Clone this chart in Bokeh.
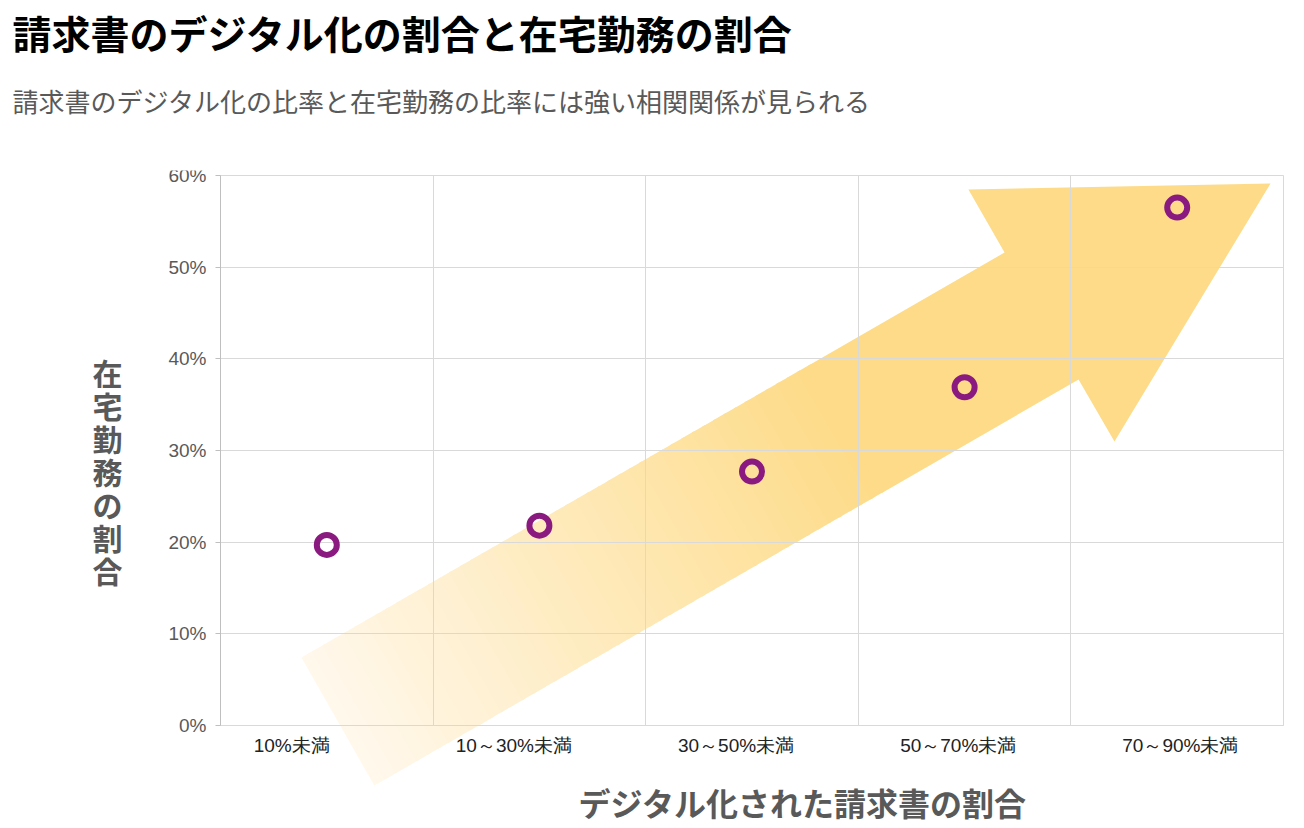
from bokeh.plotting import figure
from bokeh.models import (FixedTicker, PrintfTickFormatter, Label, Title,
                          PolyAnnotation, ColumnDataSource, Range1d)
from bokeh.embed import file_html
from bokeh.resources import INLINE

# ---------------- data ----------------
TITLE = "請求書のデジタル化の割合と在宅勤務の割合"
SUBTITLE = "請求書のデジタル化の比率と在宅勤務の比率には強い相関関係が見られる"
X_LABEL = "デジタル化された請求書の割合"
Y_LABEL = "在宅勤務の割合"
CATEGORIES = ["10%未満", "10～30%未満", "30～50%未満", "50～70%未満", "70～90%未満"]
REMOTE_SHARE = [19.7, 21.8, 27.7, 36.9, 56.5]
Y_TICKS = [0, 10, 20, 30, 40, 50, 60]

# decorative arrow outline (data units)
ARROW_TAIL_TOP = (0.381, 7.42)
ARROW_TAIL_BOT = (0.724, -6.55)
ARROW_NOTCH_TOP = (3.688, 51.6)
ARROW_NOTCH_BOT = (4.036, 37.75)
ARROW_BARB_TOP = (3.518, 58.47)
ARROW_BARB_BOT = (4.205, 30.98)
ARROW_TIP = (4.939, 59.13)
GRAD_START = (255, 248, 236)
GRAD_END = (253, 219, 136)

# ---------------- layout ----------------
n = len(CATEGORIES)
YMAX = Y_TICKS[-1]
W, H = 1296, 828
PX_X = 212.6          # pixels per category
PX_Y = 550 / YMAX     # pixels per percent
PLOT_LEFT, PLOT_TOP, PLOT_BOTTOM = 220, 175, 725   # where the chart area sits
FRAME_TOP, FRAME_RIGHT_PAD = 170, 5

x_start = -PLOT_LEFT / PX_X
x_end = n + 8 / PX_X
y_end = YMAX + (PLOT_TOP - FRAME_TOP) / PX_Y
y_start = -(H - PLOT_BOTTOM) / PX_Y

x_pos = [i + 0.5 for i in range(n)]
label_pos = [0.335 + 1.045 * i for i in range(n)]

p = figure(width=W, height=H, x_range=Range1d(x_start, x_end),
           y_range=Range1d(y_start, y_end),
           output_backend="svg", toolbar_location=None, title=None,
           min_border_left=0, min_border_right=FRAME_RIGHT_PAD,
           min_border_top=FRAME_TOP, min_border_bottom=0)
p.background_fill_color = "white"
p.border_fill_color = "white"
p.outline_line_color = None

spacer = Title(text=" ", text_font_size="10px", standoff=19)
sub = Title(text=SUBTITLE, text_font="Noto Sans CJK JP", text_font_size="26px",
            text_font_style="normal", text_color="#595959", align="left",
            offset=12, standoff=40)
main = Title(text=TITLE, text_font="Noto Sans CJK JP", text_font_size="39px",
             text_font_style="bold", text_color="#000000", align="left",
             offset=12, standoff=0)
p.add_layout(spacer, "above")
p.add_layout(sub, "above")
p.add_layout(main, "above")

# grid
p.xgrid.ticker = FixedTicker(ticks=list(range(n + 1)))
p.ygrid.ticker = FixedTicker(ticks=Y_TICKS)
p.xgrid.grid_line_color = "#d9d9d9"
p.ygrid.grid_line_color = "#d9d9d9"
p.xgrid.cross_bounds = (0, YMAX)
p.ygrid.cross_bounds = (0, n)

# axes (fixed inside the frame at the origin)
p.xaxis.fixed_location = 0
p.xaxis.bounds = (0, n)
p.xaxis.ticker = FixedTicker(ticks=label_pos)
p.xaxis.major_label_overrides = {pos: lab for pos, lab in zip(label_pos, CATEGORIES)}
p.xaxis.major_tick_out = 0
p.xaxis.major_tick_in = 0
p.xaxis.minor_tick_line_color = None
p.xaxis.axis_line_color = "#d9d9d9"
p.xaxis.major_label_text_font = "Liberation Sans"
p.xaxis.major_label_text_font_size = "19px"
p.xaxis.major_label_text_color = "#222222"
p.xaxis.major_label_standoff = 9

p.yaxis.fixed_location = 0
p.yaxis.bounds = (0, YMAX)
p.yaxis.ticker = FixedTicker(ticks=Y_TICKS)
p.yaxis.formatter = PrintfTickFormatter(format="%d%%")
p.yaxis.major_tick_out = 5
p.yaxis.major_tick_in = 0
p.yaxis.major_tick_line_color = "#bfbfbf"
p.yaxis.minor_tick_line_color = None
p.yaxis.axis_line_color = "#bfbfbf"
p.yaxis.major_label_text_font = "Liberation Sans"
p.yaxis.major_label_text_font_size = "19px"
p.yaxis.major_label_text_color = "#595959"
p.yaxis.major_label_standoff = 9


# gradient arrow (strips along the shaft, then solid head)
def lerp(a, b, t):
    return (a[0] + (b[0] - a[0]) * t, a[1] + (b[1] - a[1]) * t)


GRAD_STOP = 0.72
STEPS = 48
for k in range(STEPS):
    t0 = GRAD_STOP * k / STEPS
    t1 = min(GRAD_STOP * (k + 1) / STEPS + 0.004, 1.0)
    tm = (k + 0.5) / STEPS
    col = tuple(int(round(GRAD_START[c] + (GRAD_END[c] - GRAD_START[c]) * tm)) for c in range(3))
    a = lerp(ARROW_TAIL_TOP, ARROW_NOTCH_TOP, t0)
    b = lerp(ARROW_TAIL_TOP, ARROW_NOTCH_TOP, t1)
    c_ = lerp(ARROW_TAIL_BOT, ARROW_NOTCH_BOT, t1)
    d = lerp(ARROW_TAIL_BOT, ARROW_NOTCH_BOT, t0)
    p.add_layout(PolyAnnotation(xs=[a[0], b[0], c_[0], d[0]], ys=[a[1], b[1], c_[1], d[1]],
                                fill_color="#%02x%02x%02x" % col, fill_alpha=1.0,
                                line_color=None, level="image"))

s_top = lerp(ARROW_TAIL_TOP, ARROW_NOTCH_TOP, GRAD_STOP)
s_bot = lerp(ARROW_TAIL_BOT, ARROW_NOTCH_BOT, GRAD_STOP)
head = [s_top, ARROW_NOTCH_TOP, ARROW_BARB_TOP, ARROW_TIP, ARROW_BARB_BOT, ARROW_NOTCH_BOT, s_bot]
p.add_layout(PolyAnnotation(xs=[v[0] for v in head], ys=[v[1] for v in head],
                            fill_color="#%02x%02x%02x" % GRAD_END, fill_alpha=1.0,
                            line_color=None, level="image"))

# data points
src = ColumnDataSource(dict(x=x_pos, y=REMOTE_SHARE, cat=CATEGORIES))
p.scatter("x", "y", source=src, marker="circle", size=20, line_width=6,
          line_color="#8b1a80", fill_alpha=0)

# axis titles
p.add_layout(Label(x=2.738, y=-8.3, text=X_LABEL, text_align="center",
                   text_baseline="middle", text_font="Noto Sans CJK JP",
                   text_font_size="32px", text_font_style="bold", text_color="#595959"))
p.add_layout(Label(x=-0.532, y=27.8, text="\n".join(Y_LABEL), text_align="center",
                   text_baseline="middle", text_font="Noto Sans CJK JP",
                   text_font_size="30px", text_font_style="bold", text_color="#595959",
                   text_line_height=0.75))

open("out.html", "w").write(file_html(p, INLINE))
